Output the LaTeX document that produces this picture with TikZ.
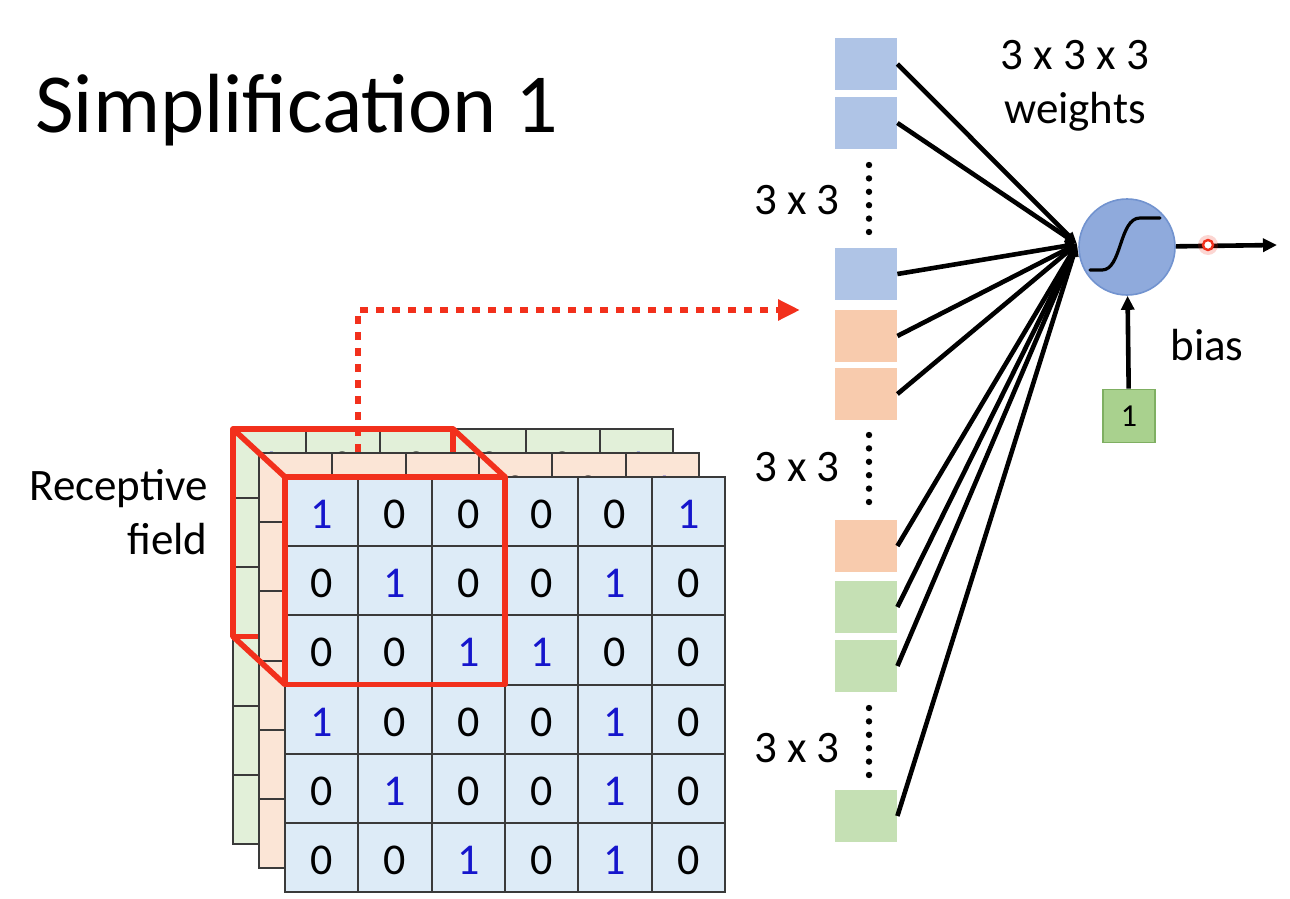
\documentclass[tikz,border=0pt]{standalone}
\usepackage{fontspec}
\setmainfont{Carlito}
\usetikzlibrary{positioning}
\usetikzlibrary{arrows.meta}

\definecolor{bluelayer}{HTML}{DDEBF7}
\definecolor{orangelayer}{HTML}{FBE5D6}
\definecolor{greenlayer}{HTML}{E2F0D9}
\definecolor{gridgray}{HTML}{3A3A3A}
\definecolor{onecol}{HTML}{1515CC}
\definecolor{fieldred}{HTML}{F2301C}
\definecolor{wblue}{HTML}{AFC4E6}
\definecolor{worange}{HTML}{F8CBAD}
\definecolor{wgreen}{HTML}{C5E0B4}
\definecolor{neuronblue}{HTML}{8FAADC}
\definecolor{neuronedge}{HTML}{7293CF}
\definecolor{biasgreen}{HTML}{A9D18E}
\definecolor{biasedge}{HTML}{7FAF62}

\tikzset{
  cell/.style={draw=gridgray, line width=1pt, minimum width=36.67pt,
    minimum height=34.58pt, inner sep=0pt, outer sep=0pt,
    text height=17pt, text depth=0pt,
    font=\fontsize{22}{22}\selectfont},
  digit0/.style={text=black},
  digit1/.style={text=onecol},
  field/.style={draw=fieldred, line width=2.8pt, line join=round},
  redflow/.style={draw=fieldred, line width=3pt, dash pattern=on 4pt off 4pt,
    -{Triangle[length=11pt,width=10pt]}},
  wsq/.style={minimum width=31pt, minimum height=26pt, inner sep=0pt},
  wire/.style={line width=2.3pt},
  txt/.style={font=\fontsize{22.5}{27}\selectfont, inner sep=0pt},
  neuron/.style={circle, minimum size=48pt, inner sep=0pt, fill=neuronblue,
    draw=neuronedge, line width=0.8pt},
  biasbox/.style={minimum width=26pt, minimum height=26.5pt, inner sep=0pt,
    fill=biasgreen, draw=biasedge, line width=0.8pt,
    font=\fontsize{16}{16}\selectfont},
  spark/.style={circle, draw=fieldred, fill=white, line width=1.2pt,
    minimum size=5pt, inner sep=0pt}
}

% one 6x6 layer of the input: x shift, y shift, fill, name
\newcommand{\gridlayer}[4]{%
  \foreach \row [count=\r] in {{1,0,0,0,0,1},{0,1,0,0,1,0},{0,0,1,1,0,0},
      {1,0,0,0,1,0},{0,1,0,0,1,0},{0,0,1,0,1,0}}
    \foreach \v [count=\c] in \row
      \node[cell, fill=#3, digit\v] (#4-\r-\c)
        at ({285+#1+73.33*(\c-0.5)},{477+#2+69.17*(\r-0.5)}) {\v};
}

\begin{document}
\begin{tikzpicture}[x=0.5pt,y=-0.5pt]
  \useasboundingbox (0,0) rectangle (1290,899);

  \node[anchor=base west, inner sep=0pt, font=\fontsize{42}{42}\selectfont]
    (title) at (35,133) {Simplification 1};

  % input layers
  \gridlayer{-52}{-48}{greenlayer}{g}
  \draw[field] (g-1-1.north west) rectangle (g-3-3.south east);
  \draw[redflow] (358,452) -- (358,310) -- (800,310);
  \gridlayer{-26}{-24}{orangelayer}{o}
  \gridlayer{0}{0}{bluelayer}{b}

  % receptive field
  \draw[field] (b-1-1.north west) rectangle (b-3-3.south east);
  \draw[field] (g-1-1.north west) -- (b-1-1.north west);
  \draw[field] (g-1-3.north east) -- (b-1-3.north east);
  \draw[field] (g-3-1.south west) -- (b-3-1.south west);

  \node[txt, anchor=east, align=right] (rf) at (208,512) {Receptive\\field};

  % weights column
  \foreach \y/\col [count=\i] in {64/wblue, 123/wblue, 274/wblue,
      336/worange, 394/worange, 546/worange,
      607/wgreen, 666/wgreen, 816/wgreen}
    \node[wsq, fill=\col] (w\i) at (866,\y) {};
  \foreach \top in {165,435,708}
    \foreach \k in {0,...,5}
      \fill (869,\top+\k*13.4) circle (3.2);
  \node[txt, anchor=east] (d1) at (840,200) {3 x 3};
  \node[txt, anchor=east] (d2) at (840,467) {3 x 3};
  \node[txt, anchor=east] (d3) at (840,748) {3 x 3};
  \node[txt, align=center] (wt) at (1075,86) {3 x 3 x 3\\weights};

  % neuron
  \node[neuron] (n) at (1127,247) {};
  \draw[line width=1.6pt, line cap=round]
    ([shift={(-37,23)}]n.center) -- ([shift={(-25,23)}]n.center)
    .. controls ([shift={(-5,23)}]n.center) and ([shift={(-8,-29)}]n.center)
    .. ([shift={(13,-29)}]n.center) -- ([shift={(33,-29)}]n.center);
  \coordinate (hub) at (1077,244);
  \foreach \i in {1,...,9}
    \draw[wire, -{Triangle[length=6pt,width=5pt]}] (w\i.east) -- (hub);

  % bias and output
  \node[biasbox] (bb) at (1129,416) {1};
  \draw[wire, -{Triangle[length=7pt,width=6.5pt]}] (bb) -- (n);
  \node[txt] (bias) at (1207,345) {bias};
  \coordinate (out) at (1277,245);
  \draw[wire, -{Triangle[length=7pt,width=6.5pt]}] (n) -- (out);
  \fill[fieldred, opacity=0.2] (1208,245) circle (10);
  \node[spark] (s) at (1208,245) {};
\end{tikzpicture}
\end{document}
